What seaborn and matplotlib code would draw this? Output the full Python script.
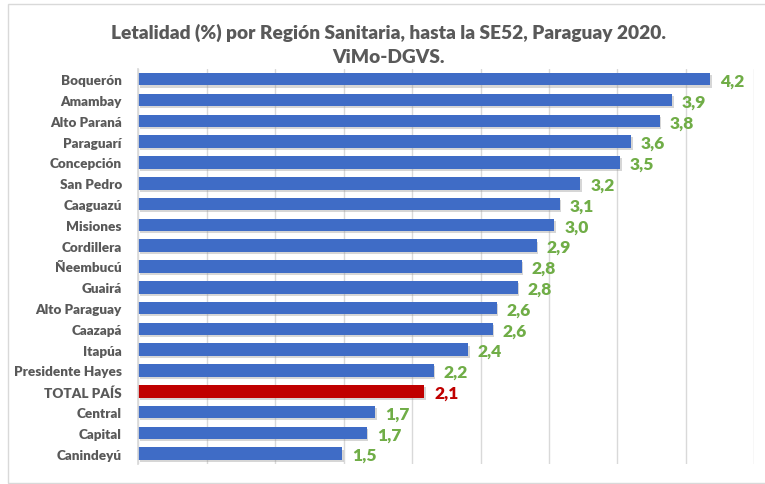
import matplotlib
matplotlib.use("Agg")
import matplotlib.pyplot as plt
import matplotlib.patheffects as pe
import seaborn as sns
import pandas as pd
from matplotlib.patches import Rectangle

regions = ["Boquerón", "Amambay", "Alto Paraná", "Paraguarí", "Concepción",
           "San Pedro", "Caaguazú", "Misiones", "Cordillera", "Ñeembucú",
           "Guairá", "Alto Paraguay", "Caazapá", "Itapúa", "Presidente Hayes",
           "TOTAL PAÍS", "Central", "Capital", "Canindeyú"]
letalidad = [4.18, 3.90, 3.81, 3.60, 3.52, 3.23, 3.08, 3.04, 2.91, 2.80,
             2.77, 2.62, 2.59, 2.41, 2.16, 2.09, 1.73, 1.67, 1.49]
title = "Letalidad (%) por Región Sanitaria, hasta la SE52, Paraguay 2020.\nViMo-DGVS."

BLUE = "#3F6CC6"
RED = "#C00000"
GREEN = "#70AD47"
GRAY = "#595959"

df = pd.DataFrame({"region": regions, "val": letalidad})
palette = {r: (RED if r == "TOTAL PAÍS" else BLUE) for r in regions}

sns.set_theme(style="white")
plt.rcParams["font.family"] = ["Lato", "DejaVu Sans"]

fig = plt.figure(figsize=(7.65, 4.85), dpi=100)
fig.patch.set_facecolor("white")
ax = fig.add_axes([0.181, 0.041, 0.805, 0.815])

sns.barplot(data=df, x="val", y="region", hue="region", palette=palette,
            legend=False, width=0.6, ax=ax, orient="h", saturation=1,
            linewidth=0, edgecolor="none")

ax.set_xlim(0, 4.5)
ax.set_xticks([i * 0.5 for i in range(10)])
ax.set_xticklabels([])
ax.tick_params(axis="x", length=0)
ax.tick_params(axis="y", length=0, pad=12)
ax.grid(axis="x", color="#D9D9D9", linewidth=1)
ax.set_axisbelow(True)
for s in ["top", "right", "bottom"]:
    ax.spines[s].set_visible(False)
ax.spines["left"].set_color("#D9D9D9")
ax.set_xlabel("")
ax.set_ylabel("")
for lbl in ax.get_yticklabels():
    lbl.set_fontweight("heavy")
    lbl.set_fontsize(9.7)
    lbl.set_color(GRAY)

shadow = [pe.SimplePatchShadow(offset=(1.0, -1.5), shadow_rgbFace="#8C8C8C",
                               alpha=0.35), pe.Normal()]
for cont in ax.containers:
    for bar in cont:
        bar.set_linewidth(0)
        bar.set_path_effects(shadow)
        w = bar.get_width()
        y = bar.get_y() + bar.get_height() / 2
        idx = int(round(y))
        name = regions[idx]
        ax.annotate(f"{w:.1f}".replace(".", ","), (w, y), xytext=(7, -1),
                    textcoords="offset points", va="center", ha="left",
                    fontsize=12.5, fontweight="heavy",
                    color=(RED if name == "TOTAL PAÍS" else GREEN))

fig.text(0.508, 0.907, title, ha="center", va="center", fontsize=13.8,
         fontweight="heavy", color=GRAY, linespacing=1.5)

fig.patches.append(Rectangle((8 / 765, 1 / 485), 1.2, 1 - 6 / 485,
                             transform=fig.transFigure, fill=False,
                             edgecolor="#D9D9D9", linewidth=1))

fig.savefig("out.png", dpi=100)
